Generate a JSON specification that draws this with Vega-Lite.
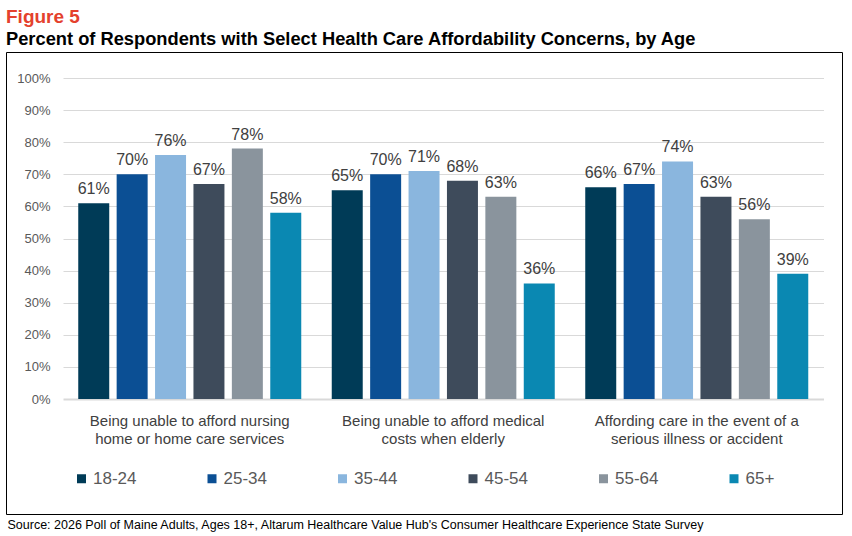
{
  "$schema": "https://vega.github.io/schema/vega-lite/v6.json",
  "width": 836,
  "height": 462,
  "padding": {"left": 6, "top": 7, "right": 10, "bottom": 5},
  "title": {
    "text": "Figure 5",
    "subtitle": "Percent of Respondents with Select Health Care Affordability Concerns, by Age",
    "anchor": "start",
    "font": "Liberation Sans",
    "fontSize": 19,
    "fontWeight": "bold",
    "color": "#E4412D",
    "subtitleFont": "Liberation Sans",
    "subtitleFontSize": 18.3,
    "subtitleFontWeight": "bold",
    "subtitleColor": "#000000",
    "subtitlePadding": 4,
    "offset": 4
  },
  "data": {
    "values": [
      {"concern": "Being unable to afford nursing|home or home care services", "age": "18-24", "pct": 0.61},
      {"concern": "Being unable to afford nursing|home or home care services", "age": "25-34", "pct": 0.70},
      {"concern": "Being unable to afford nursing|home or home care services", "age": "35-44", "pct": 0.76},
      {"concern": "Being unable to afford nursing|home or home care services", "age": "45-54", "pct": 0.67},
      {"concern": "Being unable to afford nursing|home or home care services", "age": "55-64", "pct": 0.78},
      {"concern": "Being unable to afford nursing|home or home care services", "age": "65+", "pct": 0.58},
      {"concern": "Being unable to afford medical|costs when elderly", "age": "18-24", "pct": 0.65},
      {"concern": "Being unable to afford medical|costs when elderly", "age": "25-34", "pct": 0.70},
      {"concern": "Being unable to afford medical|costs when elderly", "age": "35-44", "pct": 0.71},
      {"concern": "Being unable to afford medical|costs when elderly", "age": "45-54", "pct": 0.68},
      {"concern": "Being unable to afford medical|costs when elderly", "age": "55-64", "pct": 0.63},
      {"concern": "Being unable to afford medical|costs when elderly", "age": "65+", "pct": 0.36},
      {"concern": "Affording care in the event of a|serious illness or accident", "age": "18-24", "pct": 0.66},
      {"concern": "Affording care in the event of a|serious illness or accident", "age": "25-34", "pct": 0.67},
      {"concern": "Affording care in the event of a|serious illness or accident", "age": "35-44", "pct": 0.74},
      {"concern": "Affording care in the event of a|serious illness or accident", "age": "45-54", "pct": 0.63},
      {"concern": "Affording care in the event of a|serious illness or accident", "age": "55-64", "pct": 0.56},
      {"concern": "Affording care in the event of a|serious illness or accident", "age": "65+", "pct": 0.39}
    ]
  },
  "encoding": {
    "x": {
      "field": "concern",
      "type": "nominal",
      "sort": null,
      "scale": {"range": [57, 817.5], "paddingInner": 0, "paddingOuter": 0},
      "axis": {
        "title": "Source: 2026 Poll of Maine Adults, Ages 18+, Altarum Healthcare Value Hub's Consumer Healthcare Experience State Survey",
        "titleX": 1,
        "titleY": 129,
        "titleAlign": "left",
        "titleAnchor": "start",
        "titleBaseline": "alphabetic",
        "titleFontWeight": "normal",
        "titleFontSize": 12.5,
        "titleColor": "#000000",
        "labelAngle": 0,
        "labelFontSize": 15,
        "labelColor": "#404040",
        "labelPadding": 14,
        "labelLineHeight": 18,
        "labelLimit": 0,
        "labelExpr": "split(datum.label, '|')",
        "domain": false,
        "ticks": false,
        "offset": -115
      }
    },
    "xOffset": {
      "field": "age",
      "type": "nominal",
      "scale": {"paddingInner": 0.193, "paddingOuter": 0.397}
    },
    "y": {
      "field": "pct",
      "type": "quantitative",
      "scale": {"domain": [0, 1], "range": [347, 26], "nice": false},
      "axis": {
        "title": null,
        "values": [0, 0.1, 0.2, 0.3, 0.4, 0.5, 0.6, 0.7, 0.8, 0.9, 1],
        "format": ".0%",
        "offset": -48,
        "ticks": false,
        "domain": false,
        "labelPadding": 4,
        "labelFontSize": 13,
        "labelColor": "#595959",
        "gridColor": "#D9D9D9",
        "gridWidth": {"condition": {"test": "datum.value === 0", "value": 2}, "value": 1}
      }
    }
  },
  "layer": [
    {
      "mark": {"type": "bar"},
      "encoding": {
        "color": {
          "field": "age",
          "type": "nominal",
          "scale": {
            "domain": ["18-24", "25-34", "35-44", "45-54", "55-64", "65+"],
            "range": ["#003B57", "#0B4F94", "#8AB6DE", "#3E4B5B", "#8A949D", "#0A88B2"]
          },
          "legend": {
            "title": " ",
            "titleOrient": "left",
            "titleFontSize": 2,
            "titlePadding": 67,
            "orient": "bottom",
            "offset": -61,
            "direction": "horizontal",
            "columnPadding": 66.5,
            "symbolType": "square",
            "symbolSize": 81,
            "symbolStrokeWidth": 0,
            "labelFontSize": 17,
            "labelColor": "#595959",
            "labelOffset": 3
          }
        }
      }
    },
    {
      "mark": {"type": "text", "baseline": "alphabetic", "dy": -9, "fontSize": 16, "color": "#404040"},
      "encoding": {"text": {"field": "pct", "format": ".0%"}}
    }
  ],
  "config": {
    "font": "Liberation Sans",
    "view": {"stroke": "#000000", "strokeWidth": 1}
  }
}
